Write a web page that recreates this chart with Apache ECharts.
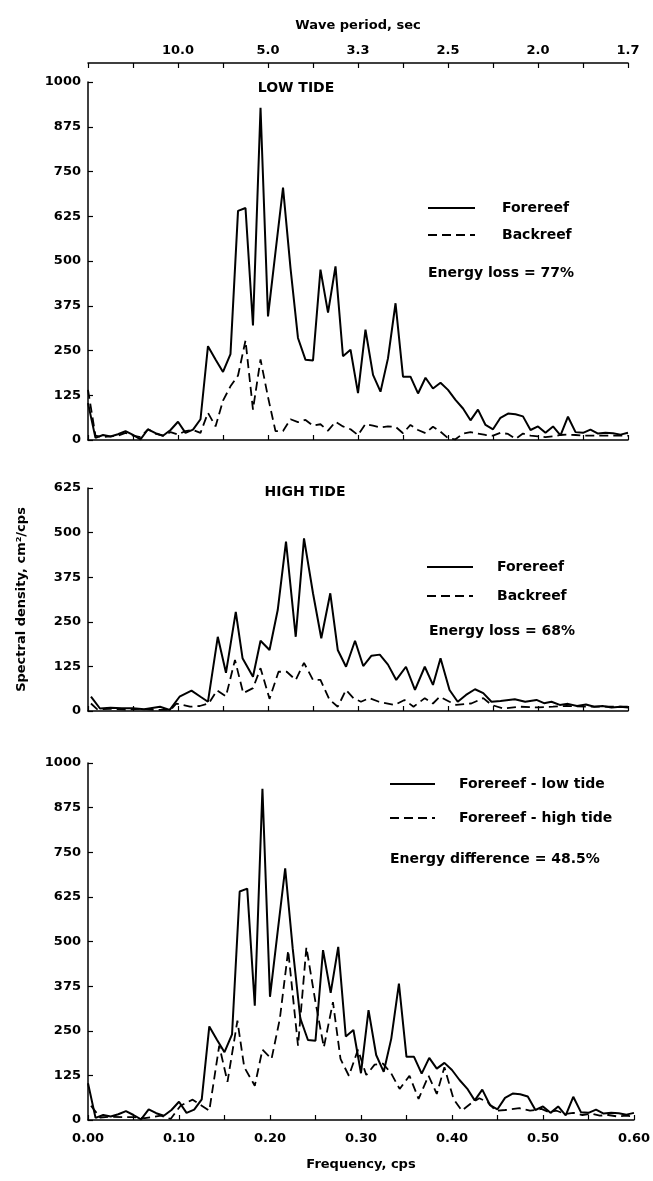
<!DOCTYPE html>
<html>
<head>
<meta charset="utf-8">
<style>
html,body{margin:0;padding:0;background:#fff;}
#chart{width:653px;height:1181px;}
</style>
</head>
<body>
<div id="chart"></div>
<script src="https://cdn.jsdelivr.net/npm/echarts@6/dist/echarts.min.js"></script>
<script>
// low tide record, spectral estimates (cps)
var freqLow = [0, 0.0083, 0.0167, 0.025, 0.0333, 0.0417, 0.05, 0.0583, 0.0667, 0.075,
  0.0833, 0.0917, 0.1, 0.1083, 0.1167, 0.125, 0.1333, 0.1417, 0.15, 0.1583,
  0.1667, 0.175, 0.1833, 0.1917, 0.2, 0.2083, 0.2167, 0.225, 0.2333, 0.2417,
  0.25, 0.2583, 0.2667, 0.275, 0.2833, 0.2917, 0.3, 0.3083, 0.3167, 0.325,
  0.3333, 0.3417, 0.35, 0.3583, 0.3667, 0.375, 0.3833, 0.3917, 0.4, 0.4083,
  0.4167, 0.425, 0.4333, 0.4417, 0.45, 0.4583, 0.4667, 0.475, 0.4833, 0.4917,
  0.5, 0.5083, 0.5167, 0.525, 0.5333, 0.5417, 0.55, 0.5583, 0.5667, 0.575,
  0.5833, 0.5917, 0.6];
var foreLow = [103, 6, 14, 10, 16, 25, 14, 2, 30, 19,
  12, 28, 51, 20, 29, 58, 262, 225, 190, 240,
  640, 648, 320, 928, 345, 525, 705, 480, 285, 224,
  222, 476, 356, 485, 234, 252, 131, 308, 182, 135,
  228, 382, 177, 177, 130, 174, 144, 160, 140, 112,
  88, 55, 85, 42, 30, 62, 74, 72, 66, 28,
  38, 20, 38, 13, 65, 22, 20, 29, 18, 20,
  19, 15, 20];
var backLow = [140, 12, 8, 10, 12, 20, 12, 8, 30, 18,
  12, 22, 15, 25, 28, 20, 76, 38, 110, 150,
  180, 278, 85, 225, 120, 25, 25, 58, 50, 56,
  40, 44, 26, 51, 38, 30, 14, 45, 40, 35,
  38, 37, 19, 42, 28, 19, 37, 23, 5, 2,
  18, 22, 18, 14, 12, 20, 17, 3, 18, 12,
  10, 8, 10, 14, 15, 14, 12, 12, 12, 12,
  12, 12, 12];

// high tide record
var freqHighFore = [0.0033, 0.0133, 0.025, 0.0375, 0.05, 0.0625, 0.08, 0.0908, 0.1017, 0.115,
  0.125, 0.1333, 0.1442, 0.1533, 0.1642, 0.1717, 0.1833, 0.1917, 0.2017, 0.2108,
  0.22, 0.2308, 0.24, 0.25, 0.2592, 0.2692, 0.2775, 0.2867, 0.2967, 0.3058,
  0.315, 0.3242, 0.3333, 0.3425, 0.3533, 0.3633, 0.3742, 0.3833, 0.3917, 0.4017,
  0.4108, 0.42, 0.43, 0.4392, 0.4483, 0.4583, 0.4742, 0.4858, 0.4983, 0.5067,
  0.515, 0.5242, 0.5333, 0.5433, 0.5533, 0.5625, 0.5717, 0.5817, 0.5917, 0.6];
var foreHigh = [40, 7, 9, 8, 8, 5, 12, 3, 40, 57,
  40, 26, 208, 107, 278, 148, 96, 197, 171, 283,
  475, 208, 484, 330, 204, 330, 171, 124, 197, 126,
  155, 158, 130, 87, 124, 59, 124, 73, 148, 59,
  26, 45, 61, 50, 26, 28, 33, 26, 31, 22,
  26, 17, 20, 14, 18, 12, 14, 10, 12, 10];
var freqHighBack = [0.0033, 0.01, 0.025, 0.0417, 0.0583, 0.075, 0.0917, 0.0983, 0.1133, 0.1242,
  0.1342, 0.1433, 0.1533, 0.1633, 0.1725, 0.1833, 0.1917, 0.2017, 0.2117, 0.2208,
  0.2308, 0.24, 0.25, 0.2583, 0.2683, 0.2775, 0.2867, 0.295, 0.3033, 0.3125,
  0.3233, 0.3408, 0.3517, 0.3617, 0.3742, 0.3833, 0.3908, 0.4017, 0.4092, 0.4258,
  0.4392, 0.4483, 0.4617, 0.48, 0.5, 0.5167, 0.5317, 0.5608, 0.6];
var backHigh = [21, 5, 6, 4, 6, 3, 3, 21, 12, 14,
  21, 58, 41, 143, 50, 64, 120, 34, 110, 110,
  87, 135, 87, 87, 32, 12, 59, 36, 26, 36,
  26, 17, 31, 12, 36, 21, 40, 26, 17, 21,
  36, 17, 7, 12, 10, 12, 14, 12, 12];

// top axis: wave period at the frequency ticks
var periodTicks = [0.1, 0.2, 0.3, 0.4, 0.5, 0.6];
var periodLabels = ['10.0', '5.0', '3.3', '2.5', '2.0', '1.7'];

var FONT = 'DejaVu Sans';
var chart = echarts.init(document.getElementById('chart'));

function pairs(xs, ys) {
  return xs.map(function (x, k) { return [x, ys[k]]; });
}

var axisLine = {show: true, onZero: false, lineStyle: {color: '#000', width: 1.5}};
var tick = {show: true, inside: true, length: 5, lineStyle: {color: '#000', width: 1.2}};
var lbl = {color: '#000', fontFamily: FONT, fontSize: 13, fontWeight: 'bold'};

function freqAxis(grid, extra) {
  var a = {
    type: 'value', gridIndex: grid, min: 0, max: 0.6, interval: 0.05,
    axisLine: axisLine, axisTick: tick, splitLine: {show: false},
    axisLabel: {show: false}
  };
  for (var k in extra) a[k] = extra[k];
  return a;
}
function densAxis(grid, max, extra) {
  var a = {
    type: 'value', gridIndex: grid, min: 0, max: max, interval: 125,
    axisLine: axisLine, axisTick: tick, splitLine: {show: false},
    axisLabel: Object.assign({margin: 7, formatter: function (v) { return String(v); }}, lbl)
  };
  for (var k in extra) a[k] = extra[k];
  return a;
}

function solid(name, data, xi, yi) {
  return {name: name, type: 'line', xAxisIndex: xi, yAxisIndex: yi, data: data,
    showSymbol: false, lineStyle: {color: '#000', width: 2}};
}
function dashed(name, data, xi, yi) {
  return {name: name, type: 'line', xAxisIndex: xi, yAxisIndex: yi, data: data,
    showSymbol: false, lineStyle: {color: '#000', width: 1.8, type: [9, 5]}};
}

function legendLine(x1, x2, y, dash) {
  return {type: 'line', shape: {x1: x1, y1: y, x2: x2, y2: y},
    style: {stroke: '#000', lineWidth: 2, lineDash: dash ? [9, 5] : null}};
}
function label(x, y, text, size, align) {
  return {type: 'text', x: x, y: y, style: {text: text, fill: '#000',
    font: 'bold ' + (size || 14) + 'px "' + FONT + '"', textAlign: align || 'left', textVerticalAlign: 'middle'}};
}

var option = {
  animation: false,
  backgroundColor: '#fff',
  grid: [
    {left: 88, top: 82, width: 540, height: 358},
    {left: 88, top: 488, width: 540, height: 223},
    {left: 88, top: 763, width: 549, height: 357}
  ],
  xAxis: [
    freqAxis(0, {position: 'bottom'}),
    freqAxis(0, {
      position: 'top', offset: 19,
      name: 'Wave period, sec', nameLocation: 'middle', nameGap: 31,
      nameTextStyle: lbl,
      axisLabel: Object.assign({show: true, margin: 6, formatter: function (v) {
        for (var k = 0; k < periodTicks.length; k++) {
          if (Math.abs(v - periodTicks[k]) < 1e-6) return periodLabels[k];
        }
        return '';
      }}, lbl)
    }),
    freqAxis(1, {position: 'bottom'}),
    freqAxis(2, {
      position: 'bottom',
      name: 'Frequency, cps', nameLocation: 'middle', nameGap: 38,
      nameTextStyle: lbl,
      axisLabel: Object.assign({show: true, margin: 12, formatter: function (v) {
        var c = Math.round(v * 100);
        return c % 10 === 0 ? (c / 100).toFixed(2) : '';
      }}, lbl)
    })
  ],
  yAxis: [
    densAxis(0, 1000),
    densAxis(1, 625, {
      name: 'Spectral density, cm\u00b2/cps', nameLocation: 'middle', nameRotate: 90,
      nameGap: 60, nameTextStyle: lbl
    }),
    densAxis(2, 1000)
  ],
  series: [
    solid('Forereef', pairs(freqLow, foreLow), 0, 0),
    dashed('Backreef', pairs(freqLow, backLow), 0, 0),
    solid('Forereef', pairs(freqHighFore, foreHigh), 2, 1),
    dashed('Backreef', pairs(freqHighBack, backHigh), 2, 1),
    solid('Forereef - low tide', pairs(freqLow, foreLow), 3, 2),
    dashed('Forereef - high tide', pairs(freqHighFore, foreHigh), 3, 2)
  ],
  graphic: [
    label(296, 88, 'LOW TIDE', 14, 'center'),
    legendLine(428, 475, 208, false), label(502, 208, 'Forereef'),
    legendLine(428, 475, 235, true), label(502, 235, 'Backreef'),
    label(428, 273, 'Energy loss = 77%'),

    label(305, 492, 'HIGH TIDE', 14, 'center'),
    legendLine(427, 473, 567, false), label(497, 567, 'Forereef'),
    legendLine(427, 473, 596, true), label(497, 596, 'Backreef'),
    label(429, 631, 'Energy loss = 68%'),

    legendLine(390, 435, 784, false), label(459, 784, 'Forereef - low tide'),
    legendLine(390, 435, 818, true), label(459, 818, 'Forereef - high tide'),
    label(390, 859, 'Energy difference = 48.5%')
  ]
};
chart.setOption(option);
</script>
</body>
</html>
